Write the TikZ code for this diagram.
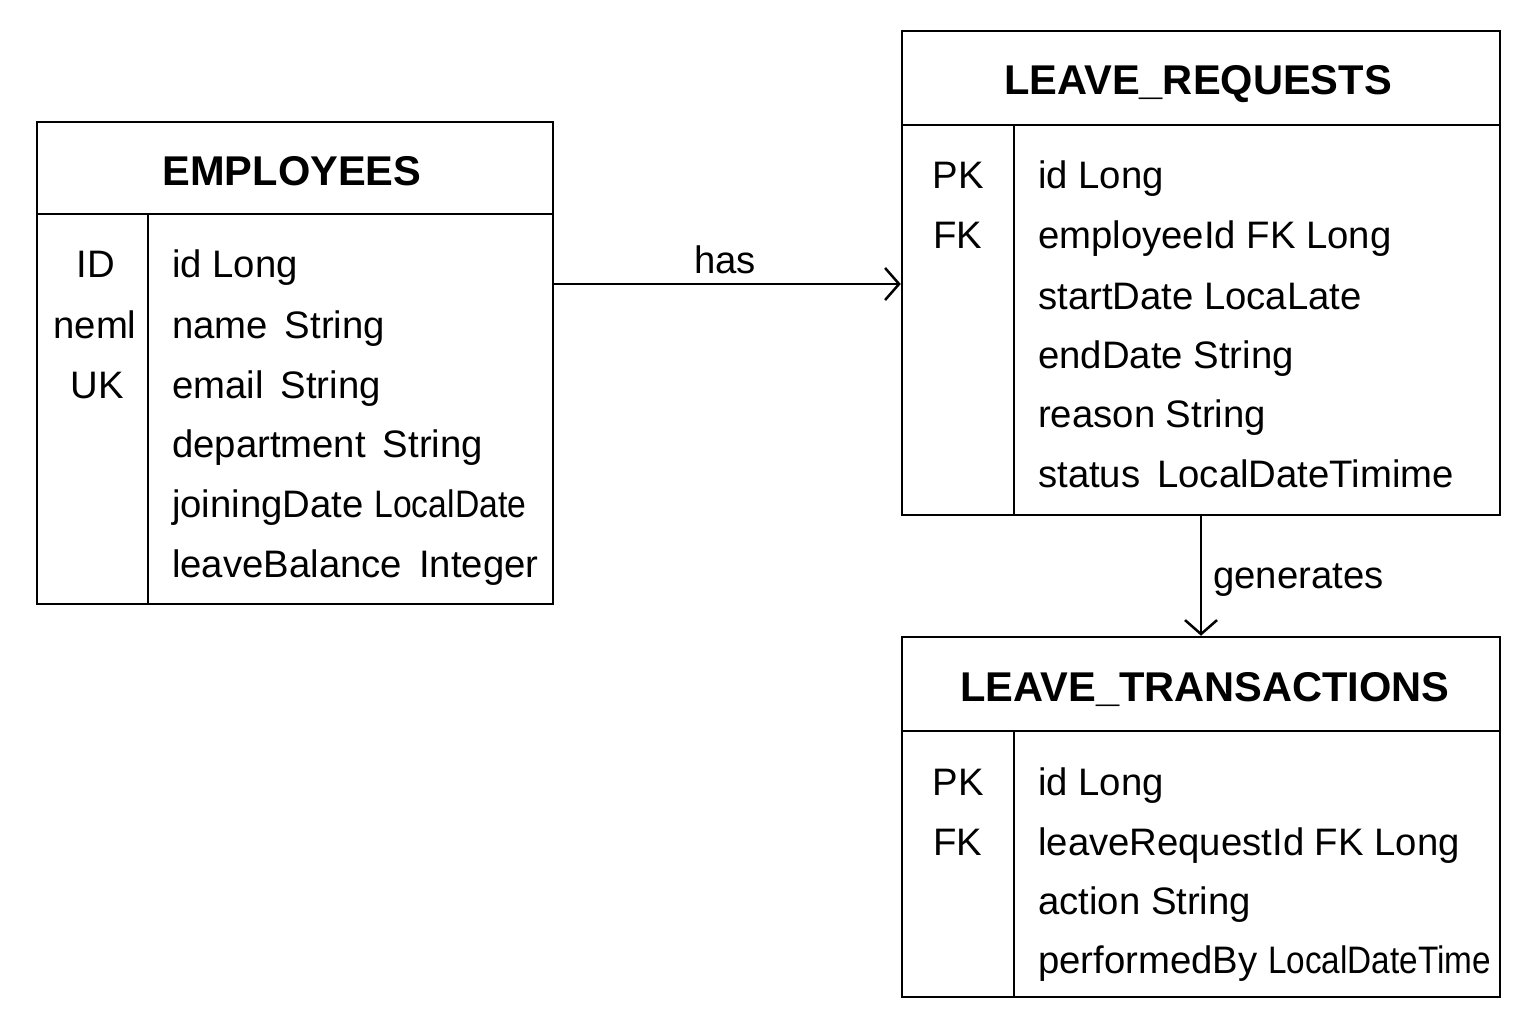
\documentclass[tikz,border=0pt]{standalone}
\usepackage{fontspec}
\setmainfont{Liberation Sans}
\usetikzlibrary{arrows.meta}
\tikzset{
  tbl/.style={draw, line width=2.5pt, rectangle, inner sep=0pt},
  sep/.style={line width=2.5pt},
  field/.style={anchor=base west, inner sep=0pt, font=\fontsize{38.3}{42}\selectfont},
  key/.style={anchor=base, inner sep=0pt, font=\fontsize{38.3}{42}\selectfont},
  title/.style={anchor=base, inner sep=0pt, font=\fontsize{41.6}{45}\selectfont\bfseries},
  lbl/.style={inner sep=0pt, font=\fontsize{38.3}{42}\selectfont},
  arr/.style={line width=2.5pt, -{Straight Barb[length=14pt, width=32pt, line width=2.5pt]}},
}
\begin{document}
\begin{tikzpicture}[x=1pt, y=-1pt]
\useasboundingbox (0,0) rectangle (1536,1024);
\fill[white] (0,0) rectangle (1536,1024);

% EMPLOYEES
\node[tbl, minimum width=516pt, minimum height=482pt] (emp) at (295,363) {};
\draw[sep] (37,214) -- (553,214);
\draw[sep] (148,214) -- (148,604);
\node[title] (empt) at (292,186) {EMPLOYEES};
\node[key] (ek1) at (96,278) {ID};
\node[key] (ek2) at (95,338) {neml};
\node[key] (ek3) at (97,398) {UK};
\node[field] (ef1) at (172,278) {id Long};
\node[field] (ef2) at (172,338) {name\, String};
\node[field] (ef3) at (172,398) {email\, String};
\node[field] (ef4) at (172,457) {department\, String};
\node[field] (ef5) at (172,517) {joiningDate \scalebox{0.88}[1]{LocalDate}};
\node[field] (ef6) at (172,577) {leaveBalance\, Integer};

% LEAVE_REQUESTS
\node[tbl, minimum width=598pt, minimum height=484pt] (lr) at (1201,273) {};
\draw[sep] (902,125) -- (1500,125);
\draw[sep] (1014,125) -- (1014,515);
\node[title] (lrt) at (1198,95) {LEAVE\_REQUESTS};
\node[key] (lk1) at (958,189) {PK};
\node[key] (lk2) at (958,249) {FK};
\node[field] (lf1) at (1038,189) {id Long};
\node[field] (lf2) at (1038,249) {employeeId FK Long};
\node[field] (lf3) at (1038,309) {startDate LocaLate};
\node[field] (lf4) at (1038,368) {endDate String};
\node[field] (lf5) at (1038,427) {reason String};
\node[field] (lf6) at (1038,487) {status\, LocalDateTimime};

% LEAVE_TRANSACTIONS
\node[tbl, minimum width=598pt, minimum height=360pt] (lt) at (1201,817) {};
\draw[sep] (902,731) -- (1500,731);
\draw[sep] (1014,731) -- (1014,997);
\node[title] (ltt) at (1205,701) {LEAVE\_TRANSACTIONS};
\node[key] (tk1) at (958,795) {PK};
\node[key] (tk2) at (958,855) {FK};
\node[field] (tf1) at (1038,795) {id Long};
\node[field] (tf2) at (1038,855) {leaveRequestId FK Long};
\node[field] (tf3) at (1038,914) {action String};
\node[field] (tf4) at (1038,973) {performedBy \scalebox{0.87}[1]{LocalDateTime}};

% connectors
\coordinate (hasY) at (0,284);
\draw[arr] (emp.east |- hasY) -- (lr.west |- hasY);
\node[lbl, anchor=base] (has) at (725,274) {has};
\draw[arr] (lr.south) -- (lt.north);
\node[lbl, anchor=base west] (gen) at (1213,588) {generates};
\end{tikzpicture}
\end{document}
